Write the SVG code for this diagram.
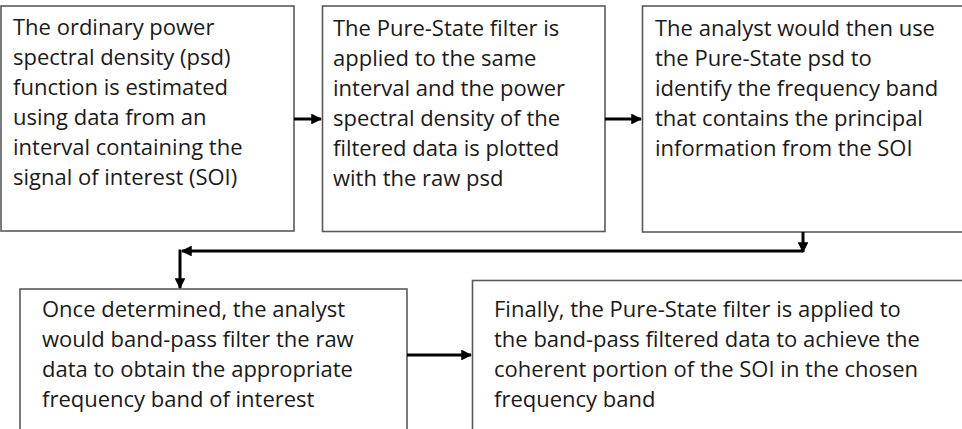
<svg xmlns="http://www.w3.org/2000/svg" width="962" height="429" viewBox="0 0 962 429">
<style>
.box{fill:#fff;stroke:#5a5a5a;stroke-width:1.6}
.t{font-family:"Open Sans","Liberation Sans",sans-serif;font-size:22px;fill:#1a1a1a}
.c{fill:none;stroke:#000;stroke-width:3}
</style>
<defs>
<marker id="ah" viewBox="0 0 10 10" refX="9" refY="5" markerWidth="3.6" markerHeight="3.6" orient="auto" markerUnits="strokeWidth">
<path d="M0,0 L10,5 L0,10 z" fill="#000"/>
</marker>
</defs>
<rect width="962" height="429" fill="#fff"/>
<g id="node1">
<rect class="box" x="1" y="6" width="293" height="225"/>
<text class="t" x="13" y="35">The ordinary power</text>
<text class="t" x="13" y="65">spectral density (psd)</text>
<text class="t" x="13" y="95">function is estimated</text>
<text class="t" x="13" y="125">using data from an</text>
<text class="t" x="13" y="155">interval containing the</text>
<text class="t" x="13" y="185">signal of interest (SOI)</text>
</g>
<g id="node2">
<rect class="box" x="322.5" y="6" width="282.5" height="225.5"/>
<text class="t" x="333" y="36">The Pure-State filter is</text>
<text class="t" x="333" y="66">applied to the same</text>
<text class="t" x="333" y="96">interval and the power</text>
<text class="t" x="333" y="126">spectral density of the</text>
<text class="t" x="333" y="156">filtered data is plotted</text>
<text class="t" x="333" y="186">with the raw psd</text>
</g>
<g id="node3">
<rect class="box" x="642.5" y="6" width="330" height="226"/>
<text class="t" x="655" y="36">The analyst would then use</text>
<text class="t" x="655" y="66">the Pure-State psd to</text>
<text class="t" x="655" y="96">identify the frequency band</text>
<text class="t" x="655" y="126">that contains the principal</text>
<text class="t" x="655" y="156">information from the SOI</text>
</g>
<g id="node4">
<rect class="box" x="20" y="289" width="387" height="160"/>
<text class="t" x="42" y="317">Once determined, the analyst</text>
<text class="t" x="42" y="347">would band-pass filter the raw</text>
<text class="t" x="42" y="377">data to obtain the appropriate</text>
<text class="t" x="42" y="407">frequency band of interest</text>
</g>
<g id="node5">
<rect class="box" x="472.5" y="280.5" width="500" height="170"/>
<text class="t" x="494" y="317">Finally, the Pure-State filter is applied to</text>
<text class="t" x="494" y="347">the band-pass filtered data to achieve the</text>
<text class="t" x="494" y="377">coherent portion of the SOI in the chosen</text>
<text class="t" x="494" y="407">frequency band</text>
</g>
<g id="connectors">
<path class="c" d="M294,119 H321" marker-end="url(#ah)"/>
<path class="c" d="M605,119 H641" marker-end="url(#ah)"/>
<path class="c" d="M803,232 V252" marker-end="url(#ah)"/>
<path class="c" d="M803,251 H182" marker-end="url(#ah)"/>
<path class="c" d="M180,249.5 V288" marker-end="url(#ah)"/>
<path class="c" d="M407,355 H471" marker-end="url(#ah)"/>
</g>
</svg>
